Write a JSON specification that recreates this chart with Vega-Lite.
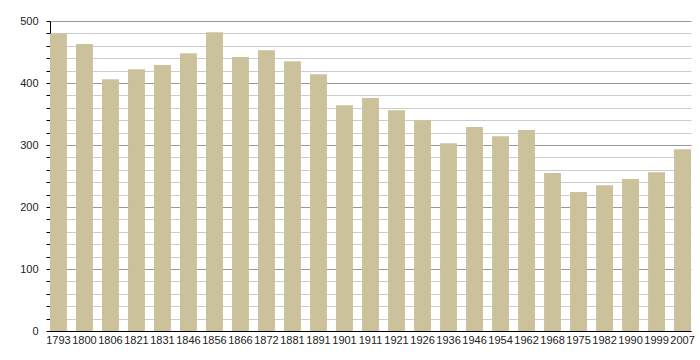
{
  "$schema": "https://vega.github.io/schema/vega-lite/v6.json",
  "width": 641,
  "height": 310,
  "autosize": {"type": "none"},
  "padding": {"left": 50, "top": 21, "right": 9, "bottom": 29},
  "background": "white",
  "config": {"view": {"stroke": null}, "font": "Liberation Sans"},
  "data": {"values": [
    {"year": "1793", "pop": 480},
    {"year": "1800", "pop": 463},
    {"year": "1806", "pop": 406},
    {"year": "1821", "pop": 422},
    {"year": "1831", "pop": 429},
    {"year": "1846", "pop": 448},
    {"year": "1856", "pop": 482},
    {"year": "1866", "pop": 442},
    {"year": "1872", "pop": 453},
    {"year": "1881", "pop": 435},
    {"year": "1891", "pop": 414},
    {"year": "1901", "pop": 364},
    {"year": "1911", "pop": 376},
    {"year": "1921", "pop": 356},
    {"year": "1926", "pop": 340},
    {"year": "1936", "pop": 303},
    {"year": "1946", "pop": 329},
    {"year": "1954", "pop": 314},
    {"year": "1962", "pop": 324},
    {"year": "1968", "pop": 255},
    {"year": "1975", "pop": 224},
    {"year": "1982", "pop": 235},
    {"year": "1990", "pop": 245},
    {"year": "1999", "pop": 256},
    {"year": "2007", "pop": 293}
  ]},
  "mark": {"type": "bar", "color": "#cbc29b"},
  "encoding": {
    "x": {
      "field": "year", "type": "ordinal", "sort": null,
      "scale": {"paddingInner": 0.35, "paddingOuter": 0},
      "axis": {
        "title": null, "labelAngle": 0, "ticks": false, "domainColor": "#000", "domainWidth": 1,
        "labelFontSize": 11, "labelColor": "#222", "labelPadding": 3
      }
    },
    "y": {
      "field": "pop", "type": "quantitative",
      "scale": {"domain": [0, 500], "nice": false},
      "axis": {
        "title": null,
        "values": [0,20,40,60,80,100,120,140,160,180,200,220,240,260,280,300,320,340,360,380,400,420,440,460,480,500],
        "labelExpr": "datum.value % 100 === 0 ? datum.label : ''",
        "grid": true,
        "gridColor": {"condition": {"test": "datum.value % 100 === 0", "value": "#999999"}, "value": "#cccccc"},
        "gridWidth": 1,
        "domainColor": "#000", "tickColor": "#000", "tickSize": 4,
        "labelFontSize": 11, "labelColor": "#222", "labelPadding": 8
      }
    }
  }
}
